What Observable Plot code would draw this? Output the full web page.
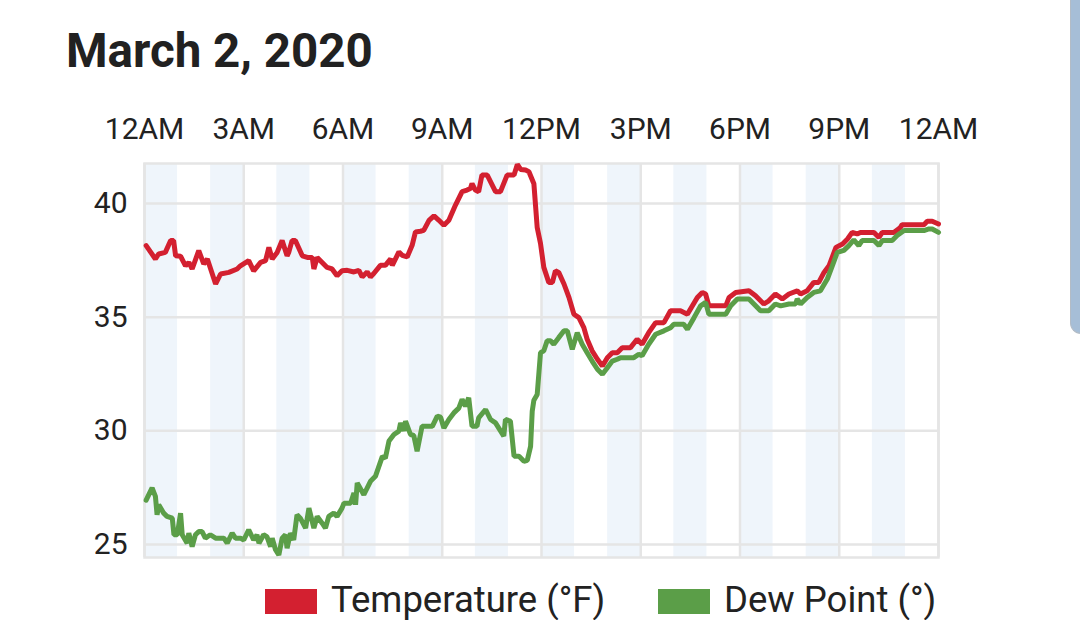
<!DOCTYPE html>
<html>
<head>
<meta charset="utf-8">
<script src="https://cdn.jsdelivr.net/npm/d3@7"></script>
<script src="https://cdn.jsdelivr.net/npm/@observablehq/plot@0.6"></script>
<style>
  html, body { margin: 0; padding: 0; background: #fff; width: 1080px; height: 620px; overflow: hidden; font-family: Roboto, sans-serif; }
  #title { position: absolute; left: 66px; top: 23px; font-size: 47.5px; font-weight: 700; color: #212121; }
  #chart { position: absolute; left: 0; top: 90px; }
  .sw { position: absolute; top: 589px; width: 52px; height: 25px; }
  .lt { position: absolute; top: 578px; font-size: 36.5px; color: #222; white-space: nowrap; }
  #bar { position: absolute; left: 1070px; top: 0; width: 10px; height: 333px; background: #a6bed7; border-left: 1px solid #b3bcc6; border-bottom: 1px solid #b3bcc6; border-bottom-left-radius: 12px; }
</style>
</head>
<body>
<div id="title">March 2, 2020</div>
<div id="chart"></div>
<div class="sw" style="left:265px;background:#d32030"></div>
<div class="lt" style="left:331px">Temperature (°F)</div>
<div class="sw" style="left:658px;background:#5b9e48"></div>
<div class="lt" style="left:724px">Dew Point (°)</div>
<div id="bar"></div>
<script>
const hourTicks = [0, 3, 6, 9, 12, 15, 18, 21, 24];
const hourLabels = ["12AM", "3AM", "6AM", "9AM", "12PM", "3PM", "6PM", "9PM", "12AM"];
const shadedHours = [0, 2, 4, 6, 8, 10, 12, 14, 16, 18, 20, 22];
const yTicks = [25, 30, 35, 40];

const tempHours = [0.05,0.33,0.43,0.63,0.79,0.88,0.94,1.09,1.24,1.34,1.44,1.64,1.79,1.90,2.15,2.30,2.55,2.80,2.90,3.15,3.30,3.51,3.66,3.76,3.86,4.01,4.16,4.31,4.36,4.46,4.56,4.77,4.92,5.07,5.12,5.22,5.52,5.67,5.82,5.97,6.13,6.33,6.48,6.58,6.73,6.83,6.93,7.13,7.28,7.44,7.49,7.69,7.79,7.94,8.09,8.19,8.34,8.44,8.60,8.75,8.90,9.05,9.20,9.40,9.60,9.75,9.85,9.90,10.00,10.10,10.20,10.36,10.61,10.76,10.96,11.17,11.27,11.37,11.52,11.62,11.77,11.87,11.97,12.07,12.22,12.33,12.42,12.52,12.68,12.83,12.98,13.13,13.28,13.38,13.53,13.69,13.84,13.99,14.14,14.29,14.44,14.69,14.89,15.04,15.24,15.45,15.70,15.90,16.20,16.41,16.71,16.86,16.96,17.06,17.57,17.67,17.87,18.27,18.47,18.72,18.87,19.07,19.28,19.48,19.73,19.83,20.03,20.23,20.38,20.54,20.69,20.90,21.10,21.25,21.39,21.54,21.64,22.05,22.20,22.30,22.65,22.85,22.90,23.56,23.66,23.81,24.00];
const tempValues = [38.15,37.56,37.78,37.85,38.37,38.37,37.70,37.68,37.26,37.41,37.12,37.93,37.34,37.56,36.46,36.90,36.97,37.12,37.26,37.49,37.04,37.41,37.49,38.07,37.56,37.85,38.37,37.70,37.85,38.37,38.37,37.70,37.63,37.63,37.12,37.63,37.19,37.12,36.82,37.04,37.06,36.99,37.06,36.77,36.99,36.77,36.92,37.28,37.28,37.57,37.28,37.87,37.72,37.65,38.16,38.75,38.78,38.82,39.26,39.46,39.26,39.04,39.26,39.93,40.52,40.59,40.66,40.88,40.59,40.52,41.25,41.25,40.52,40.52,41.25,41.25,41.72,41.50,41.47,41.40,40.87,38.95,38.24,37.19,36.53,36.53,37.04,36.97,36.46,35.87,35.13,34.98,34.54,34.03,33.52,33.15,32.85,33.22,33.44,33.44,33.66,33.66,34.03,33.81,34.32,34.76,34.76,35.28,35.28,35.13,35.87,36.09,36.02,35.50,35.50,35.87,36.09,36.16,35.94,35.58,35.72,36.02,35.80,36.02,36.16,36.02,36.16,36.53,36.53,36.97,37.26,38.07,38.22,38.44,38.73,38.66,38.73,38.73,38.51,38.73,38.73,38.95,39.07,39.07,39.22,39.22,39.10];

const dewHours = [0.05,0.23,0.33,0.38,0.43,0.58,0.68,0.84,0.89,0.99,1.09,1.14,1.29,1.34,1.44,1.54,1.64,1.74,1.84,1.99,2.15,2.40,2.50,2.65,2.75,2.90,3.00,3.15,3.30,3.40,3.46,3.60,3.70,3.81,3.86,3.96,4.06,4.16,4.26,4.31,4.41,4.51,4.61,4.71,4.87,4.97,5.12,5.22,5.37,5.47,5.57,5.72,5.82,5.97,6.03,6.23,6.33,6.38,6.43,6.63,6.83,6.98,7.19,7.28,7.39,7.54,7.69,7.74,7.84,7.89,8.04,8.14,8.24,8.39,8.70,8.85,8.95,9.05,9.20,9.35,9.50,9.60,9.70,9.80,9.90,10.05,10.10,10.31,10.46,10.61,10.86,10.91,11.06,11.17,11.32,11.47,11.57,11.67,11.72,11.77,11.87,11.97,12.07,12.17,12.27,12.37,12.52,12.68,12.78,12.93,13.08,13.23,13.38,13.53,13.69,13.84,13.99,14.14,14.29,14.39,14.79,14.94,15.04,15.24,15.45,15.70,15.90,16.00,16.30,16.41,16.61,16.81,16.96,17.06,17.57,17.72,17.92,18.27,18.42,18.62,18.87,19.07,19.23,19.48,19.68,19.73,19.83,20.03,20.23,20.43,20.64,20.79,20.94,21.14,21.29,21.44,21.59,21.69,22.05,22.20,22.30,22.60,22.75,22.96,23.56,23.71,23.81,24.00];
const dewValues = [26.95,27.49,27.12,26.31,26.75,26.38,26.24,26.16,25.43,25.43,26.38,25.43,25.06,25.50,24.91,25.43,25.57,25.57,25.28,25.43,25.28,25.28,25.06,25.50,25.28,25.28,25.20,25.65,25.20,25.43,25.06,25.43,25.35,24.91,25.28,24.77,24.54,25.28,25.43,24.84,25.50,25.20,26.31,26.16,25.72,26.60,25.72,26.24,25.94,25.72,26.24,26.38,26.24,26.60,26.82,26.82,27.27,26.75,27.71,27.19,27.78,28.00,28.88,28.80,29.55,29.84,29.99,30.35,30.00,30.43,29.84,29.80,29.10,30.20,30.20,30.65,30.60,30.13,30.50,30.79,31.00,31.38,31.09,31.46,30.20,30.20,30.57,30.94,30.50,30.35,29.77,30.50,30.43,28.88,28.88,28.66,28.70,29.32,30.87,31.35,31.60,33.44,33.52,33.96,33.96,33.81,34.10,34.40,34.40,33.59,34.32,33.81,33.44,33.07,32.71,32.49,32.78,33.07,33.15,33.22,33.22,33.37,33.30,33.81,34.25,34.40,34.54,34.69,34.69,34.47,34.98,35.50,35.65,35.13,35.13,35.50,35.80,35.80,35.58,35.28,35.28,35.58,35.50,35.58,35.58,35.80,35.58,35.87,36.09,36.16,36.68,37.26,37.85,37.94,38.15,38.40,38.15,38.37,38.37,38.15,38.37,38.37,38.59,38.81,38.81,38.88,38.88,38.73];

const temp = tempHours.map((h, i) => ({h, v: tempValues[i]}));
const dew = dewHours.map((h, i) => ({h, v: dewValues[i]}));

const gridColor = "#e5e5e5";
const chart = Plot.plot({
  width: 1080,
  height: 480,
  marginLeft: 144,
  marginRight: 142,
  marginTop: 73,
  marginBottom: 13,
  x: {domain: [0, 24], label: null},
  y: {domain: [24.43, 41.76], label: null},
  style: {fontFamily: "Roboto, sans-serif", color: "#222", background: "transparent", overflow: "visible"},
  marks: [
    Plot.rect(shadedHours, {x1: d => d, x2: d => d + 1, fill: "#eff5fb"}),
    Plot.gridX(hourTicks, {stroke: gridColor, strokeOpacity: 1, strokeWidth: 2.5}),
    Plot.gridY(yTicks, {stroke: gridColor, strokeOpacity: 1, strokeWidth: 2.5}),
    Plot.frame({stroke: gridColor, strokeWidth: 2.5}),
    Plot.axisX(hourTicks, {anchor: "top", label: null, tickSize: 0, tickPadding: 25, fontSize: 30, fill: "#222",
      tickFormat: d => hourLabels[hourTicks.indexOf(d)]}),
    Plot.axisY(yTicks, {anchor: "left", label: null, tickSize: 0, tickPadding: 17, fontSize: 30, fill: "#222"}),
    Plot.line(temp, {x: "h", y: "v", stroke: "#d32030", strokeWidth: 5, strokeLinejoin: "miter"}),
    Plot.line(dew, {x: "h", y: "v", stroke: "#5b9e48", strokeWidth: 5, strokeLinejoin: "miter"})
  ]
});
document.getElementById("chart").appendChild(chart);
</script>
</body>
</html>
